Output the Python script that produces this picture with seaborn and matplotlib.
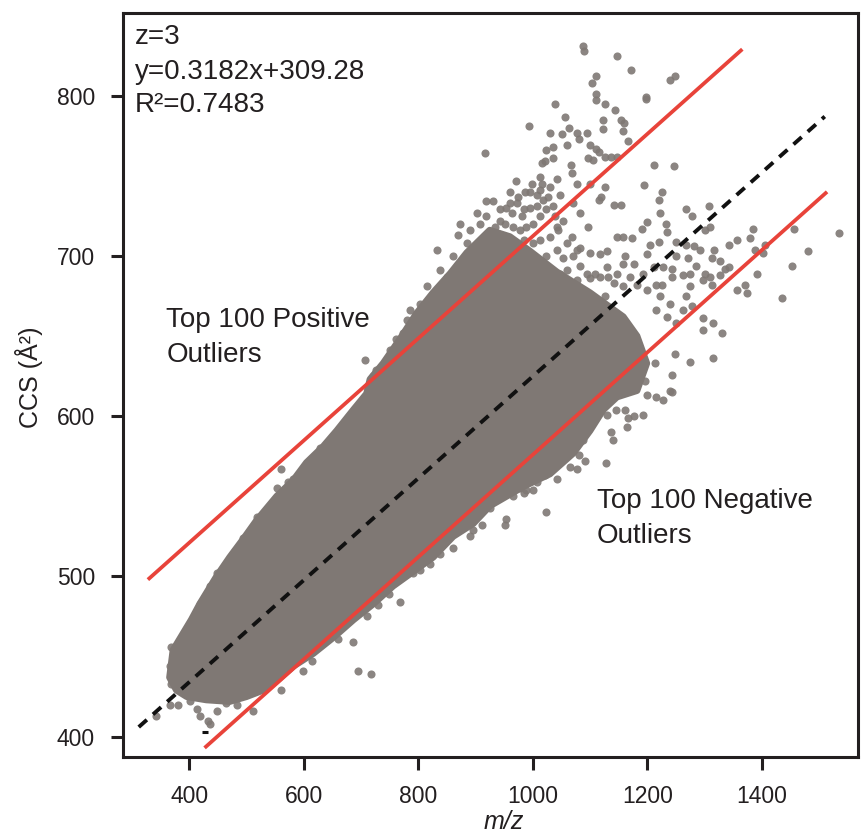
import matplotlib
matplotlib.use("Agg")
import matplotlib.pyplot as plt
import seaborn as sns
import pandas as pd

# ---------------- data ----------------
# outline of the dense, saturated core of the point cloud (m/z, CCS)
core_x = [378, 396, 430, 471, 500, 529, 553, 582, 617, 652, 687, 722, 756, 791, 826,
          861, 896, 925, 983, 1030, 1071, 1100, 1123, 1147, 1182, 1199, 1182, 1158,
          1100, 1042, 995, 960, 925, 885, 856, 826, 797, 768, 739, 716, 710, 687, 658,
          634, 605, 582, 553, 518, 494, 471, 448, 419, 404, 372, 366]
core_y = [429, 425, 423, 422, 425, 429, 435, 444, 452, 462, 473, 483, 494, 503, 512,
          525, 533, 544, 556, 564, 577, 591, 604, 612, 616, 633, 650, 662,
          677, 690, 703, 712, 716, 702, 689, 677, 664, 648, 633, 623, 614, 604, 591,
          581, 571, 560, 550, 535, 523, 512, 500, 483, 473, 454, 437]

# individual points outside the saturated core
dot_x = [1088, 1090, 1147, 1171, 1110, 1103, 1240, 1249, 1198, 1198, 1110, 1110, 1127,
         1039, 1143, 1056, 1123, 1155, 1159, 993, 1031, 1051, 1064, 1078, 1094, 1123,
         1158, 1166, 1035, 1024, 1060, 1081, 1100, 1110, 1115, 1016, 1021, 1036, 1066,
         1097, 1106, 1126, 1136, 1147, 1013, 1017, 1042, 1068, 1078, 1100, 971, 1211,
         1247, 1194, 995, 1007, 1030, 1048, 1126, 1120, 1142, 1155, 1116, 1226, 1221,
         1223, 960, 972, 995, 963, 943, 981, 1053, 1042, 1068, 1097, 1199, 1190, 1233,
         1234, 1267, 1278, 1307, 1301, 1310, 1148, 1158, 1173, 1205, 1221, 1251, 1268,
         1281, 1292, 1317, 1343, 1357, 1380, 1384, 1457, 1534, 1083, 1100, 1117, 1129,
         1053, 1070, 1161, 1158, 1199, 1176, 1228, 1243, 1251, 1271, 1286, 1313, 1327,
         1388, 1406, 1403, 1480, 1019, 1030, 1048, 1083, 1094, 1109, 1132, 1100, 1142,
         1158, 1182, 1216, 1226, 1243, 1262, 1275, 1301, 1310, 1327, 1336, 1298, 1313,
         1342, 1391, 1452, 1356, 1374, 1371, 1435, 1275, 1268, 1278, 1033, 1059, 1081,
         1100, 1126, 1298, 1315, 1330, 1298, 1275, 1314, 1248, 1244, 1214, 1196, 1240,
         931, 943, 954, 934, 952, 966, 978, 989, 1001, 1013, 1024, 1018, 1007, 984, 975,
         960, 986, 998, 1013, 1027, 1036, 1039, 1045, 1030, 1013, 1001, 984, 960, 937,
         1071, 1083, 1059, 1077, 1042, 1024, 1007, 989, 1059, 1077, 1117, 1147, 1129,
         1170, 1193, 1211, 1199, 1222, 1240, 1263, 1251, 1234, 1216,
         873, 890, 908, 919, 902, 885, 908, 861, 850, 873,
         917, 919, 870, 832, 838, 887, 815, 826, 803, 786, 780, 797, 809, 774, 762, 751,
         707, 727, 721,
         561, 553, 573, 518, 535, 515, 529, 480, 494, 503, 448, 436, 419, 369, 366, 369,
         366, 381, 343, 401, 413, 419, 433, 436, 448, 465, 483, 512, 561, 599, 614, 660,
         687, 695, 717, 768, 749, 730, 710, 838, 861, 890, 911, 896, 820, 791, 803, 617,
         628, 599, 582,
         1024, 954, 952, 1001, 989, 978, 1042, 1029, 1065, 1077, 1128, 1091, 1080, 1071,
         1141, 1136, 1165, 1167, 1176, 1193, 1145, 1162, 1129, 1199, 1216, 1228, 1243,
         1117, 925, 943, 966, 984, 1007, 1021, 1042, 1059, 1088, 1100]
dot_y = [831, 828, 825, 816, 812, 808, 810, 812, 799, 798, 801, 797, 795,
         795, 791, 787, 785, 785, 783, 781, 777, 776, 780, 777, 777, 779,
         778, 772, 768, 766, 769, 773, 769, 767, 765, 758, 759, 761, 757,
         761, 760, 762, 762, 762, 749, 745, 748, 752, 745, 745, 747, 757,
         756, 744, 740, 738, 743, 738, 743, 737, 732, 732, 735, 740, 735,
         727, 733, 733, 730, 727, 722, 725, 722, 718, 712, 718, 721, 717, 720,
         715, 729, 725, 731, 716, 718, 712, 712, 711, 707, 709, 709, 707,
         706, 704, 704, 707, 710, 711, 717, 717, 714, 705, 702, 701, 703,
         699, 700, 700, 695, 701, 695, 693, 692, 700, 699, 694, 699, 697,
         704, 707, 702, 703, 693, 687, 689, 694, 689, 689, 687, 686, 683,
         681, 682, 682, 682, 687, 688, 689, 689, 687, 688, 692, 685, 682,
         693, 689, 694, 679, 677, 682, 674, 681, 675, 669, 675, 679, 676,
         673, 675, 661, 658, 652, 654, 634, 636, 639, 626, 633, 622, 616,
         734, 729, 730, 718, 720, 718, 716, 718, 720, 725, 729, 735, 731, 729, 737,
         740, 740, 745, 741, 737, 731, 725, 716, 712, 710, 708, 710, 710, 710,
         733, 727, 708, 704, 704, 700, 695, 691, 691, 685, 687, 689, 693,
         687, 689, 693, 679, 675, 670, 666, 658, 662, 666,
         720, 716, 720, 725, 727, 708, 708, 700, 687, 689,
         764, 734, 713, 704, 691, 702, 681, 676, 670, 666, 660, 661, 664, 652, 648, 641,
         635, 629, 625,
         567, 555, 559, 537, 541, 531, 529, 516, 524, 521, 502, 494, 483, 456, 444, 433,
         420, 420, 413, 422, 417, 413, 410, 408, 416, 421, 420, 416, 429, 441, 447, 461,
         459, 441, 439, 484, 489, 482, 475, 514, 518, 525, 532, 529, 508, 502, 504, 567,
         580, 564, 561,
         540, 536, 532, 554, 554, 555, 561, 565, 568, 567, 571, 572, 576, 579,
         585, 590, 593, 599, 600, 601, 604, 604, 601, 613, 612, 610, 615,
         607, 543, 550, 550, 552, 559, 563, 573, 576, 585, 596]

# regression line and the +/- outlier bounds (end points)
fit_x = [312, 1510]
fit_y = [406, 787]
upper_x = [328, 1366]
upper_y = [498, 829]
lower_x = [427, 1514]
lower_y = [393, 740]
stray_x = [427]
stray_y = [403]

x_ticks = [400, 600, 800, 1000, 1200, 1400]
y_ticks = [400, 500, 600, 700, 800]

stats_lines = ["z=3", "y=0.3182x+309.28", "R\u00b2=0.7483"]

# ---------------- style ----------------
sns.set_theme(style="ticks")
plt.rcParams["font.family"] = ["Liberation Sans", "DejaVu Sans"]
TXT = "#231f20"
GREY = "#7f7874"
RED = "#e8433a"

fig = plt.figure(figsize=(8.61, 8.34), dpi=100)
ax = fig.add_axes([0.1425, 0.0923, 0.8540, 0.8925])

# dense core
ax.fill(core_x, core_y, color=GREY, lw=5, ec=GREY, joinstyle="round", zorder=1)
# individual points
pts = pd.DataFrame({"mz": dot_x, "ccs": dot_y})
sns.scatterplot(data=pts, x="mz", y="ccs", s=34, color=GREY, linewidth=0,
                alpha=0.9, ax=ax, zorder=2)

# lines
ax.plot(upper_x, upper_y, color=RED, lw=2.7, solid_capstyle="butt", zorder=3)
ax.plot(lower_x, lower_y, color=RED, lw=2.7, solid_capstyle="butt", zorder=3)
ax.plot(fit_x, fit_y, color="#111111", lw=2.8, dashes=(2.8, 2.1), zorder=4)
ax.plot(stray_x, stray_y, marker="_", ms=4, mew=2.2, color="#111111", ls="none", zorder=4)

ax.set_xlim(284, 1568)
ax.set_ylim(387.3, 851.8)
ax.set_xticks(x_ticks)
ax.set_yticks(y_ticks)

for s in ax.spines.values():
    s.set_linewidth(2.2)
    s.set_color(TXT)
ax.tick_params(axis="both", direction="out", length=9, width=2.2, color=TXT,
               labelsize=16.5, labelcolor=TXT, pad=11)

ax.set_xlabel("m/z", fontsize=18, style="italic", color=TXT)
ax.set_ylabel("CCS (\u00c5\u00b2)", fontsize=18, color=TXT)
ax.xaxis.set_label_coords(0.5186, -0.0873)
ax.yaxis.set_label_coords(-0.128, 0.51)
ax.xaxis.label.set_va("center")
ax.yaxis.label.set_va("center")

for frac_y, line in zip([0.9678, 0.9207, 0.876], stats_lines):
    ax.text(0.0167, frac_y, line, transform=ax.transAxes, fontsize=20,
            color=TXT, va="center", ha="left")

ax.text(360, 660, "Top 100 Positive", fontsize=20, color=TXT, va="center", ha="left")
ax.text(360, 638, "Outliers", fontsize=20, color=TXT, va="center", ha="left")
ax.text(1112, 547, "Top 100 Negative", fontsize=20, color=TXT, va="center", ha="left")
ax.text(1112, 525, "Outliers", fontsize=20, color=TXT, va="center", ha="left")

fig.savefig("out.png", dpi=100)
